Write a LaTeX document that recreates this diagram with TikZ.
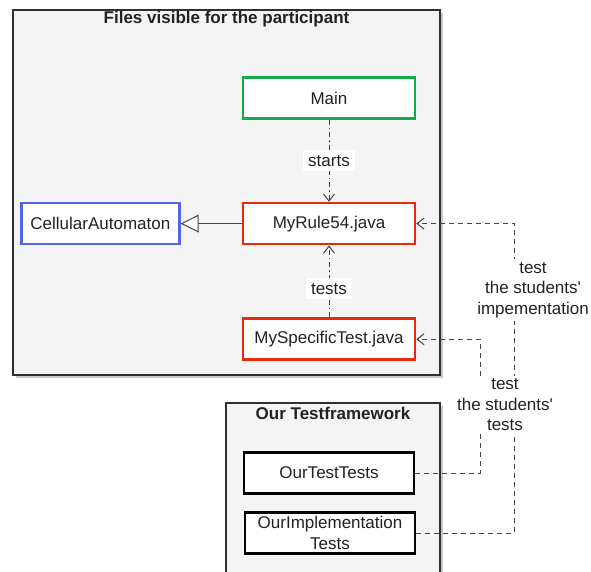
\documentclass[tikz,border=0pt]{standalone}
\usepackage{fontspec}
\setmainfont{Liberation Sans}
\usetikzlibrary{arrows.meta, calc, positioning, shadows}
\definecolor{filegreen}{RGB}{20,170,70}
\definecolor{filered}{RGB}{232,42,12}
\definecolor{fileblue}{RGB}{84,100,232}
\definecolor{framegray}{RGB}{244,244,244}
\definecolor{framedark}{RGB}{48,48,48}
\definecolor{textdark}{RGB}{34,34,34}
\definecolor{linkgray}{RGB}{70,70,70}

\begin{document}
\begin{tikzpicture}[x=1pt, y=-1pt, font=\fontsize{17}{20.5}\selectfont, text=textdark,
	file/.style={draw, line width=2.6pt, fill=white, minimum width=172pt, minimum height=41pt, inner sep=1pt, align=center},
	frame/.style={draw=framedark, line width=1.4pt, fill=framegray, drop shadow={opacity=0.45, shadow xshift=3pt, shadow yshift=-3pt}},
	link/.style={line width=1pt, draw=linkgray, -{Straight Barb[length=7pt, width=11pt]}},
	uses/.style={link, dash pattern=on 5pt off 3pt on 1.5pt off 3pt},
	testlink/.style={link, dash pattern=on 5pt off 4pt},
	linklabel/.style={fill=white, align=center, inner sep=1pt}]
	\useasboundingbox (0,0) rectangle (591,571);
	\clip (0,0) rectangle (591,571);
	
	% frames
	\path[frame] (13,10) rectangle (440,375);
	\node[font=\fontsize{17}{20}\selectfont\bfseries] (visibletitle) at (226.5,19) {Files visible for the participant};
	\path[frame] (226,403) rectangle (440,600);
	\node[font=\fontsize{17}{20}\selectfont\bfseries] (frameworktitle) at (333,413) {Our Testframework};
	
	% participant files
	\node[file, draw=filegreen] (main) at (329,98) {Main};
	\node[file, draw=filered, below = 82pt of main] (myrule) {MyRule54.java};
	\node[file, draw=filered, below = 72pt of myrule] (specific) {MySpecificTest.java};
	\node[file, draw=fileblue, minimum width=158pt, left = 61pt of myrule] (automaton) {CellularAutomaton};
	
	% our tests
	\node[file, draw=black, minimum width=170pt] (testtests) at (329,473) {OurTestTests};
	\node[file, draw=black, minimum width=170pt, inner sep=0pt] (impltests) at (330,533) {OurImplementation\\Tests};
	
	\draw[line width=1pt, draw=linkgray, -{Triangle[open, length=18pt, width=18pt, fill=white]}] (myrule.west) -- (automaton.east);
	\draw[uses] (main.south) -- node[linklabel, inner sep=5pt] (startslabel) {starts} (myrule.north);
	\draw[uses] (specific.north) -- node[linklabel, inner sep=5pt, pos=0.4] (testslabel) {tests} (myrule.south);
	
	\draw[testlink] (impltests.east) -- ++(98,0) |- (myrule.east);
	\draw[testlink] (testtests.east) -- ++(65,0) |- (specific.east);
	\node[linklabel, inner sep=3pt] (impllabel) at (533,290) {test\\the students\textquotesingle\\impementation};
	\node[linklabel, inner sep=3pt] (testslinklabel) at (505,405) {test\\the students\textquotesingle\\tests};
\end{tikzpicture}
\end{document}
